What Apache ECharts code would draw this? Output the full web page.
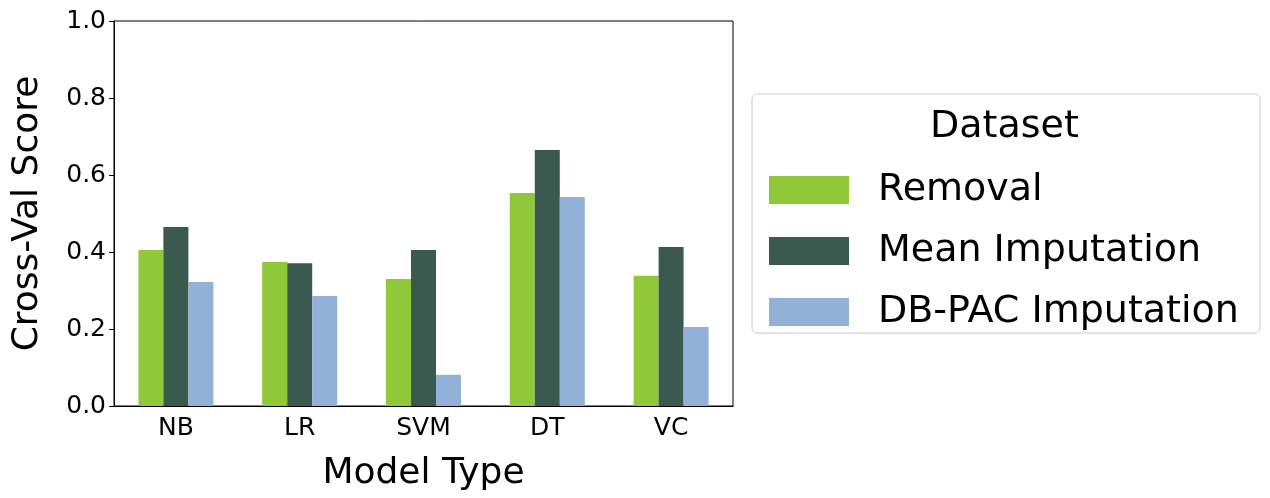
<!DOCTYPE html>
<html><head><meta charset="utf-8">
<script src="https://cdn.jsdelivr.net/npm/echarts@6/dist/echarts.min.js"></script>
<style>html,body{margin:0;background:#fff}#c{width:1270px;height:498px}</style>
</head><body><div id="c"></div>
<script>
const categories = ['NB','LR','SVM','DT','VC'];
const removal = [0.405,0.374,0.330,0.553,0.338];
const meanImp = [0.465,0.371,0.405,0.665,0.413];
const dbpac = [0.322,0.286,0.081,0.543,0.205];
const yTicks = [0,0.2,0.4,0.6,0.8,1.0];
const F = 'DejaVu Sans';
const chart = echarts.init(document.getElementById('c'));
const mk = (name, data, color) => ({name, type:'bar', data, barWidth:25, barGap:'0%', itemStyle:{color}});
chart.setOption({
  animation:false,
  textStyle:{fontFamily:F},
  grid:{left:114,top:21,width:619,height:385,show:true,borderColor:'#000',borderWidth:1,backgroundColor:'transparent'},
  xAxis:{type:'category',data:categories,axisLine:{lineStyle:{color:'#000'}},axisTick:{alignWithLabel:true,length:5,lineStyle:{color:'#000'}},
    axisLabel:{fontSize:25,color:'#000',margin:10,fontFamily:F},name:'Model Type',nameLocation:'middle',nameGap:50,nameTextStyle:{fontSize:36,color:'#000',fontFamily:F}},
  yAxis:{type:'value',min:0,max:1,interval:0.2,splitLine:{show:false},axisLine:{show:true,lineStyle:{color:'#000'}},axisTick:{show:true,length:5,lineStyle:{color:'#000'}},
    axisLabel:{fontSize:25,color:'#000',fontFamily:F,formatter:v=>yTicks.includes(+v.toFixed(1))?v.toFixed(1):''},
    name:'Cross-Val Score',nameLocation:'middle',nameGap:68,nameTextStyle:{fontSize:36,color:'#000',fontFamily:F}},
  legend:{orient:'vertical',left:764,top:166,itemWidth:80,itemHeight:28,itemGap:23,icon:'rect',
    textStyle:{fontSize:38,color:'#000',fontFamily:F,padding:[0,0,0,24]}},
  graphic:[
    {type:'rect',shape:{x:752,y:94,width:508,height:239,r:5},style:{fill:'#fff',stroke:'#ccc',lineWidth:1},z:-1},
    {type:'text',left:930,top:108,style:{text:'Dataset',fontSize:38,fill:'#000',fontFamily:F}}
  ],
  series:[mk('Removal',removal,'#8fc93a'),mk('Mean Imputation',meanImp,'#3a5a50'),mk('DB-PAC Imputation',dbpac,'#93b0d8')]
});
</script></body></html>
